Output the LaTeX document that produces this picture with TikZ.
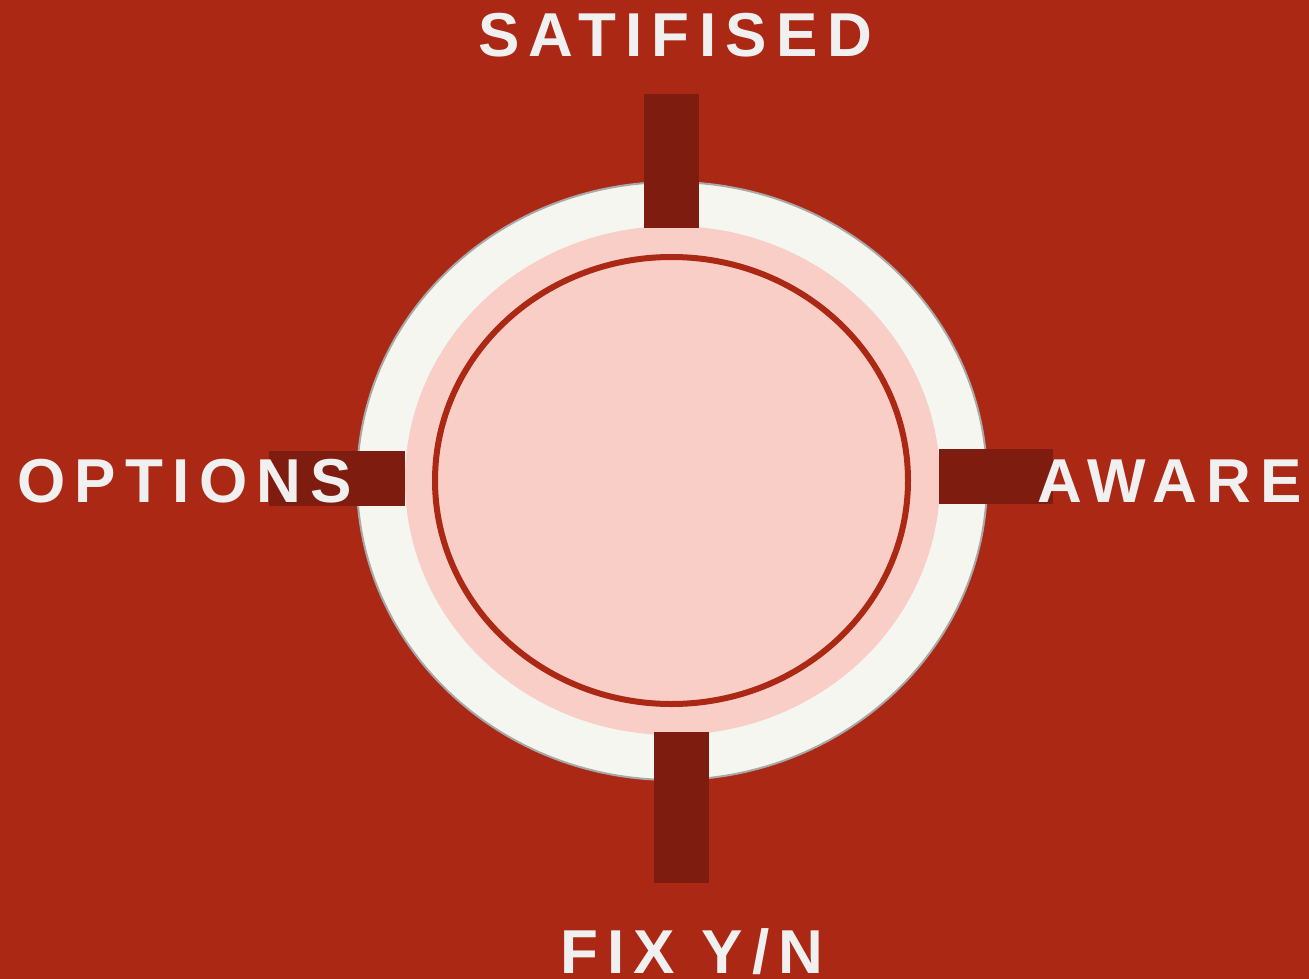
\documentclass[tikz,border=0pt]{standalone}
\usepackage{fontspec}
\newfontfamily\lab[LetterSpace=15.0]{Liberation Sans Bold}
\definecolor{bgred}{HTML}{AB2815}
\definecolor{barred}{HTML}{7E1C10}
\definecolor{offwhite}{HTML}{F6F6F0}
\definecolor{pinkfill}{HTML}{F8CEC6}
\definecolor{rimgray}{HTML}{A8A8A8}
\definecolor{txt}{HTML}{F0F0F0}
\tikzset{
  bar/.style={fill=barred, draw=none},
  lbl/.style={text=txt, inner sep=0pt, font=\lab\fontsize{62}{62}\selectfont},
}
\begin{document}
\begin{tikzpicture}[x=1pt,y=-1pt]
\fill[bgred] (0,0) rectangle (1309,979);
\useasboundingbox (0,0) rectangle (1309,979);
% outer ring
\draw[rimgray, line width=2pt, fill=offwhite] (672,481) ellipse [x radius=315, y radius=299];
% middle pink
\fill[pinkfill] (672.5,480.5) ellipse [x radius=267.5, y radius=254.5];
% inner outlined ellipse
\draw[bgred, line width=6pt, fill=pinkfill] (671.5,480.5) ellipse [x radius=236.5, y radius=223.5];
% bars
\fill[bar] (644,94) rectangle (699,228);
\fill[bar] (654,732) rectangle (709,883);
\fill[bar] (269,451) rectangle (405,506);
\fill[bar] (939,449) rectangle (1053,504);
% labels
\node[lbl, anchor=base west] (sat) at (478,57) {SATIFISED};
\node[lbl, anchor=base west] (opt) at (17,502) {OPTIONS};
\node[lbl, anchor=base west] (awa) at (1037,502) {AWARE};
\node[lbl, anchor=base west] (fix) at (560,973) {FIX Y/N};
\end{tikzpicture}
\end{document}
